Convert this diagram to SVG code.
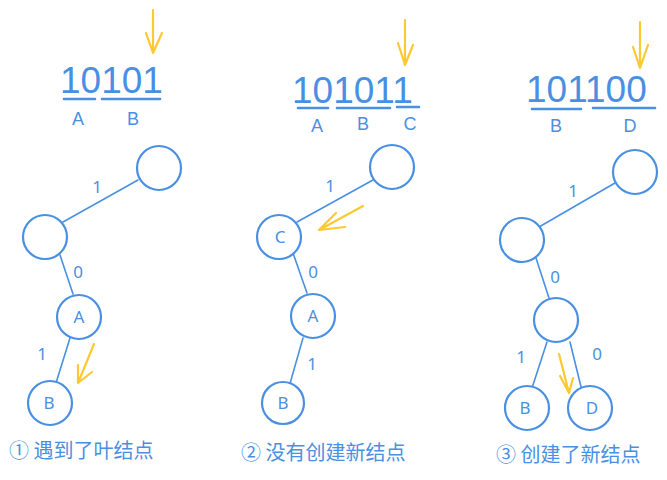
<svg xmlns="http://www.w3.org/2000/svg" width="667" height="480" viewBox="0 0 667 480">
<style>
.n{fill:#fff;stroke:#4a90e2;stroke-width:2.2}
.e{stroke:#4a90e2;stroke-width:1.6;fill:none;stroke-linecap:round}
.u{stroke:#4a90e2;stroke-width:2.6;stroke-linecap:round}
.y{stroke:#fcc932;stroke-width:2.2;fill:none;stroke-linecap:round;stroke-linejoin:round}
.big{font-family:"Liberation Sans","Noto Sans",sans-serif;font-size:37px;fill:#4a90e2}
.lb{font-family:"Noto Sans","Liberation Sans",sans-serif;font-size:17px;fill:#4a90e2;text-anchor:middle}
.lt{font-family:"Liberation Sans","Noto Sans",sans-serif;font-size:18px;fill:#4a90e2;text-anchor:middle}
.cap{font-family:"Noto Sans CJK SC","Noto Sans",sans-serif;font-size:20px;fill:#4a90e2}
</style>
<rect width="667" height="480" fill="#fff"/>
<g id="connectors">
<line class="e" x1="138" y1="180" x2="63" y2="222"/>
<line class="e" x1="60" y1="255" x2="73" y2="294"/>
<line class="e" x1="70" y1="338" x2="56" y2="383"/>
<line class="e" x1="373" y1="180" x2="297" y2="222"/>
<line class="e" x1="293" y1="253" x2="307" y2="293"/>
<line class="e" x1="303" y1="338" x2="289" y2="387"/>
<line class="e" x1="615" y1="183" x2="539" y2="227"/>
<line class="e" x1="536" y1="258" x2="549" y2="298"/>
<line class="e" x1="547" y1="342" x2="532" y2="388"/>
<line class="e" x1="570" y1="342" x2="583" y2="395"/>
</g>
<g id="edge-labels" class="lb">
<text x="97" y="193">1</text>
<text x="78" y="278">0</text>
<text x="42" y="360">1</text>
<text x="330" y="192">1</text>
<text x="313" y="278">0</text>
<text x="312" y="370">1</text>
<text x="573" y="197">1</text>
<text x="555" y="283">0</text>
<text x="521" y="363">1</text>
<text x="597" y="360">0</text>
</g>
<g id="panel1">
<path class="y" d="M153 10V53M146 33L153 53L162 33"/>
<text class="big" x="60" y="93">10101</text>
<line class="u" x1="64" y1="99" x2="95" y2="99"/>
<line class="u" x1="102" y1="99" x2="160" y2="99"/>
<text class="lt" x="78" y="125">A</text>
<text class="lt" x="133" y="125">B</text>
<g id="p1-root"><circle class="n" cx="159" cy="168" r="22"/></g>
<g id="p1-n1"><circle class="n" cx="45" cy="237" r="22"/></g>
<g id="p1-A"><circle class="n" cx="79" cy="317" r="22"/><text class="lb" x="79" y="323">A</text></g>
<g id="p1-B"><circle class="n" cx="50" cy="403" r="22"/><text class="lb" x="49" y="409">B</text></g>
<path class="y" d="M94 344L78 383M78 365L78 383L92 372"/>
<text class="cap" x="9" y="458">① 遇到了叶结点</text>
</g>
<g id="panel2">
<path class="y" d="M405 20V65M398 43L405 65L413 45"/>
<text class="big" x="292" y="103">101011</text>
<line class="u" x1="298" y1="108" x2="328" y2="108"/>
<line class="u" x1="337" y1="108" x2="390" y2="108"/>
<line class="u" x1="397" y1="107" x2="419" y2="107"/>
<text class="lt" x="317" y="132">A</text>
<text class="lt" x="363" y="130">B</text>
<text class="lt" x="410" y="130">C</text>
<g id="p2-root"><circle class="n" cx="392" cy="167" r="22"/></g>
<g id="p2-C"><circle class="n" cx="279" cy="237" r="22"/><text class="lb" x="280" y="243">C</text></g>
<g id="p2-A"><circle class="n" cx="313" cy="316" r="22"/><text class="lb" x="313" y="322">A</text></g>
<g id="p2-B"><circle class="n" cx="283" cy="403" r="21"/><text class="lb" x="283" y="409">B</text></g>
<path class="y" d="M363 206L319 230M336 213L319 230L345 227"/>
<text class="cap" x="241" y="460">② 没有创建新结点</text>
</g>
<g id="panel3">
<path class="y" d="M640 22V68M633 47L640 68L648 45"/>
<text class="big" x="526" y="102">101100</text>
<line class="u" x1="532" y1="109" x2="581" y2="109"/>
<line class="u" x1="593" y1="108" x2="655" y2="108"/>
<text class="lt" x="556" y="132">B</text>
<text class="lt" x="630" y="132">D</text>
<g id="p3-root"><circle class="n" cx="635" cy="172" r="22"/></g>
<g id="p3-n1"><circle class="n" cx="522" cy="240" r="22"/></g>
<g id="p3-n2"><circle class="n" cx="556" cy="320" r="22"/></g>
<g id="p3-B"><circle class="n" cx="527" cy="408" r="22"/><text class="lb" x="525" y="414">B</text></g>
<g id="p3-D"><circle class="n" cx="590" cy="408" r="22"/><text class="lb" x="592" y="414">D</text></g>
<path class="y" d="M559 354L569 393M560 376L569 393L573 378"/>
<text class="cap" x="496" y="462">③ 创建了新结点</text>
</g>
</svg>
